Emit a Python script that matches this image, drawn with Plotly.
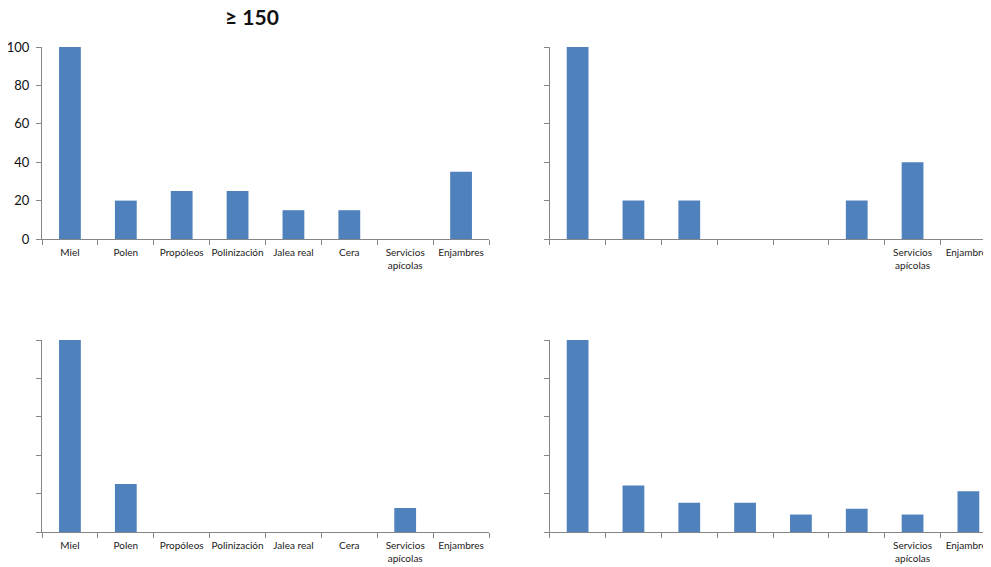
import plotly.graph_objects as go

categories = ["Miel", "Polen", "Propóleos", "Polinización", "Jalea real", "Cera",
              "Servicios apícolas", "Enjambres"]
tick_labels_full = ["Miel", "Polen", "Propóleos", "Polinización", "Jalea real", "Cera",
                    "Servicios<br>apícolas", "Enjambres"]
tick_labels_right = ["", "", "", "", "", "", "Servicios<br>apícolas", "Enjambres"]

values_top_left = [100, 20, 25, 25, 15, 15, 0, 35]
values_top_right = [100, 20, 20, 0, 0, 20, 40, 0]
values_bottom_left = [100, 25, 0, 0, 0, 0, 12.5, 0]
values_bottom_right = [100, 24.2, 15.2, 15.2, 9.1, 12.1, 9.1, 21.2]

y_ticks = [0, 20, 40, 60, 80, 100]
title_text = "≥ 150"

W, H = 991, 567
OFF = 8  # page body margin
BAR = "#4F81BD"
AX = "#868686"
FONT = "Lato, 'Liberation Sans', sans-serif"

fig = go.Figure()

panels = [
    # (values, xaxis, yaxis, x0px, x1px, ytop, ybot, labels, show_y)  (page px)
    (values_top_left, "x", "y", 42, 489, 47, 239, tick_labels_full, True),
    (values_top_right, "x2", "y2", 549.7, 996.3, 47, 239, tick_labels_right, False),
    (values_bottom_left, "x3", "y3", 42, 489, 340, 532, tick_labels_full, False),
    (values_bottom_right, "x4", "y4", 549.7, 996.3, 340, 532, tick_labels_right, False),
]

for i, (vals, xa, ya, x0, x1, yt, yb, labels, show_y) in enumerate(panels):
    fig.add_trace(go.Bar(x=categories, y=[v if v else None for v in vals], xaxis=xa, yaxis=ya,
                         marker=dict(color=BAR, line=dict(width=0)),
                         width=0.39, showlegend=False))
    suffix = "" if i == 0 else str(i + 1)
    fig.layout["xaxis" + suffix] = dict(
        domain=[(x0 - OFF) / W, (x1 - OFF) / W], anchor=ya, type="category",
        categoryorder="array", categoryarray=categories,
        range=[-0.5, 7.5], tickmode="array", tickvals=categories, ticktext=labels,
        tickson="boundaries", ticks="outside", ticklen=5, tickcolor=AX, tickwidth=1,
        showline=True, linecolor=AX, linewidth=1, showgrid=False, zeroline=False,
        tickangle=0, automargin=False, ticklabelstandoff=4,
        tickfont=dict(family=FONT, size=10, color="#222"), fixedrange=True,
    )
    fig.layout["yaxis" + suffix] = dict(
        domain=[1 - (yb - OFF) / H, 1 - (yt - OFF) / H], anchor=xa, range=[0, 100],
        tickmode="array", tickvals=y_ticks,
        ticktext=[str(v) for v in y_ticks] if show_y else [""] * len(y_ticks),
        ticks="outside", ticklen=5, tickcolor=AX, tickwidth=1,
        showline=True, linecolor=AX, linewidth=1, showgrid=False, zeroline=False,
        automargin=False, ticklabelstandoff=4,
        tickfont=dict(family=FONT, size=13, color="#111"), fixedrange=True,
    )

fig.add_annotation(text="<b>" + title_text + "</b>", xref="paper", yref="paper",
                   x=(252 - OFF) / W, y=1 - (16 - OFF) / H, showarrow=False,
                   font=dict(family=FONT, size=21, color="#111"),
                   xanchor="center", yanchor="middle")

fig.update_layout(width=W, height=H, margin=dict(l=0, r=0, t=0, b=0, autoexpand=False),
                  paper_bgcolor="white", plot_bgcolor="white", bargap=0.6)

fig.write_html("out.html")
